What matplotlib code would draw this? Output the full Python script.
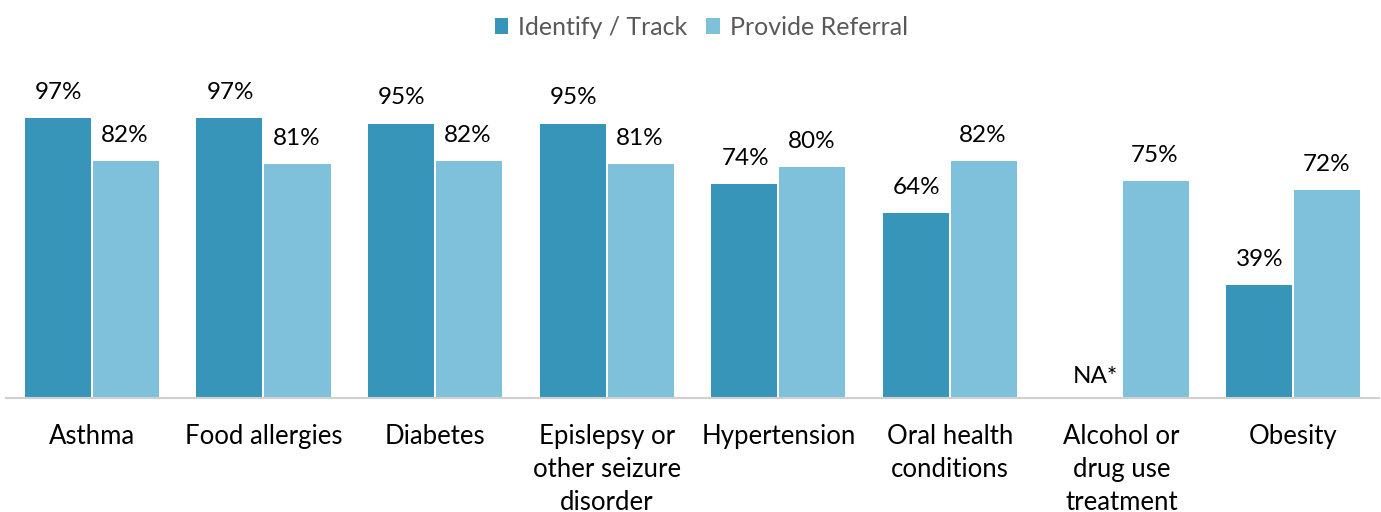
import numpy as np
import matplotlib.pyplot as plt

plt.rcParams['font.family'] = ['Lato', 'DejaVu Sans']

categories = ["Asthma", "Food allergies", "Diabetes", "Epislepsy or\nother seizure\ndisorder",
              "Hypertension", "Oral health\nconditions", "Alcohol or\ndrug use\ntreatment", "Obesity"]
identify = [97, 97, 95, 95, 74, 64, np.nan, 39]
referral = [82, 81, 82, 81, 80, 82, 75, 72]

c_dark = '#3795BA'
c_light = '#7FC1DB'

fig = plt.figure(figsize=(13.81, 5.12), dpi=100)
ax = fig.add_axes([6 / 1381, 114 / 512, 1373 / 1381, 320 / 512])

x = np.arange(len(categories))
w = 0.385
b1 = ax.bar(x - w / 2 - 0.006, identify, w, color=c_dark, label='Identify / Track')
b2 = ax.bar(x + w / 2 + 0.006, referral, w, color=c_light, label='Provide Referral')

for xi, v in zip(x - w / 2, identify):
    if np.isnan(v):
        ax.annotate('NA*', (xi + 0.04, 0), xytext=(0, 8), textcoords='offset points',
                    ha='center', va='bottom', fontsize=17.5)
    else:
        ax.annotate(f'{v:.0f}%', (xi, v), xytext=(0, 11), textcoords='offset points',
                    ha='center', va='bottom', fontsize=17.5)
for xi, v in zip(x + w / 2, referral):
    ax.annotate(f'{v:.0f}%', (xi, v), xytext=(0, 11), textcoords='offset points',
                ha='center', va='bottom', fontsize=17.5)

ax.set_xlim(-0.5, len(categories) - 0.5)
ax.set_ylim(0, 110.8)
ax.set_xticks(x)
ax.set_xticklabels(categories, fontsize=18.5, linespacing=1.4, va='top')
ax.tick_params(axis='x', length=0, pad=19)
ax.set_yticks([])
for s in ['top', 'right', 'left']:
    ax.spines[s].set_visible(False)
ax.spines['bottom'].set_color('#d0d0d0')
ax.spines['bottom'].set_linewidth(1.5)

leg = fig.legend(loc='upper center', bbox_to_anchor=(0.508, 1.013), ncol=2, frameon=False,
                 fontsize=18, handlelength=0.55, handleheight=0.55, handletextpad=0.4,
                 columnspacing=0.75)
for t in leg.get_texts():
    t.set_color('#595959')

fig.savefig('out.png', dpi=100)
